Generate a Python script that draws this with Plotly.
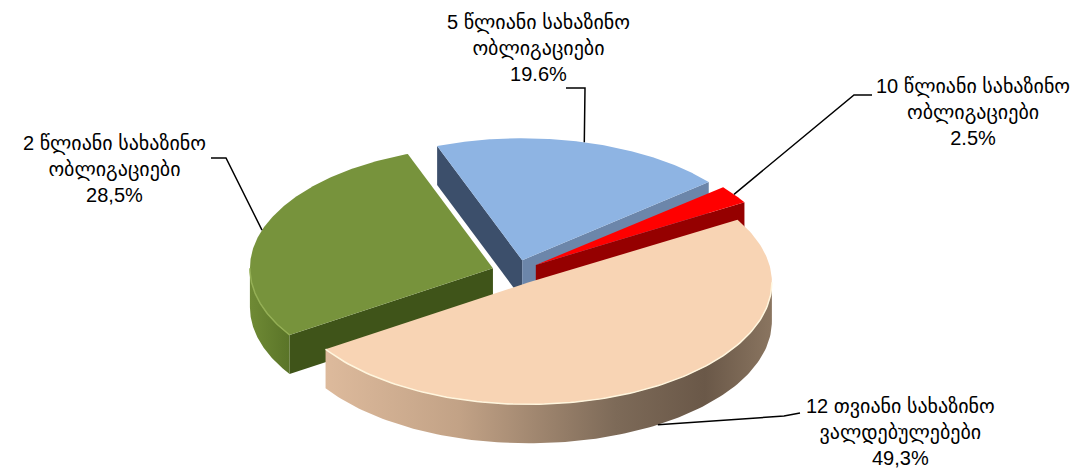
import numpy as np
import plotly.graph_objects as go

# ---- data ----
categories = [
    "5 წლიანი სახაზინო<br>ობლიგაციები",
    "10 წლიანი სახაზინო<br>ობლიგაციები",
    "12 თვიანი სახაზინო<br>ვალდებულებები",
    "2 წლიანი სახაზინო<br>ობლიგაციები",
]
values = [19.6, 2.5, 49.3, 28.5]
value_labels = ["19.6%", "2.5%", "49,3%", "28,5%"]

# ---- style / layout ----
W, H = 1080, 468
CX, CY = 508, 264          # pie centre (pixel space)
A, B = 243, 122            # ellipse semi-axes of the tilted pie
DEPTH = 39                 # thickness
START = -20.5              # angle of first slice (deg, clockwise from back)
EXPLODE = 0.1
FONT = "Arial, 'Liberation Sans', 'DejaVu Sans', sans-serif"
FONT_SIZE = 20

top_col = ["#8EB4E3", "#FF0000", "#F8D4B4", "#77933C"]
start_wall_col = ["#3C4F6B", "#7A0000", "#B89A80", "#3F5419"]
end_wall_col = ["#6C86AA", "#950000", "#B89A80", "#4A6020"]
arc_side = [
    [[0, "#3C4F6B"], [1, "#3C4F6B"]],
    [[0, "#950000"], [1, "#950000"]],
    [[0, "#DDBA9C"], [0.3, "#C2A286"], [0.65, "#7D6A58"], [0.85, "#6A5848"], [1, "#8A7560"]],
    [[0, "#6F8A35"], [1, "#5A7428"]],
]
rim_col = [None, None, "#FFF6DE", "#94AF55"]
label_pos = [(530, 40), (965, 104), (892, 424), (106, 161)]
elbows = [
    [(558, 80), (577, 80)],
    [(864, 87), (846, 87)],
    [(792, 405), (776, 408)],
    [(203, 150), (218, 150)],
]
draw_order = [0, 1, 3, 2]


def pt(cx, cy, th, dz=0.0):
    r = np.radians(th)
    return cx + A * np.sin(r), cy - B * np.cos(r) + dz


total = sum(values)
spans = [v / total * 360 for v in values]
starts = list(START + np.cumsum([0] + spans[:-1]))
ends = [s + sp for s, sp in zip(starts, spans)]

fig = go.Figure()
apexes = []
for i in range(len(values)):
    m = (starts[i] + ends[i]) / 2
    ex, ey = pt(0, 0, m)
    apexes.append((CX + EXPLODE * ex, CY + EXPLODE * ey))


def add_poly(xs, ys, color=None, grad=None):
    kw = dict(x=list(xs) + [xs[0]], y=list(ys) + [ys[0]], mode="lines", fill="toself",
              line=dict(width=0, color="rgba(0,0,0,0)"), hoverinfo="skip", showlegend=False)
    if grad is not None:
        kw["fillgradient"] = dict(type="horizontal", colorscale=grad)
    else:
        kw["fillcolor"] = color
    fig.add_trace(go.Scatter(**kw))


for i in draw_order:
    ax, ay = apexes[i]
    s, e = starts[i], ends[i]
    # visible radial walls
    for th, col, vis in [(s, start_wall_col[i], np.sin(np.radians(s)) < 0),
                         (e, end_wall_col[i], np.sin(np.radians(e)) > 0)]:
        if vis:
            px, py = pt(ax, ay, th)
            add_poly([ax, px, px, ax], [ay, py, py + DEPTH, ay + DEPTH], color=col)
    # visible outer side
    t1, t2 = max(s, 90), min(e, 270)
    if t2 > t1:
        th = np.linspace(t1, t2, 120)
        tx, ty = pt(ax, ay, th)
        bx, by = pt(ax, ay, th[::-1], DEPTH)
        add_poly(np.concatenate([tx, bx]), np.concatenate([ty, by]), grad=arc_side[i])
    # top face
    th = np.linspace(s, e, 200)
    tx, ty = pt(ax, ay, th)
    add_poly(np.concatenate([[ax], tx]), np.concatenate([[ay], ty]), color=top_col[i])
    if t2 > t1 and rim_col[i]:
        th = np.linspace(t1, t2, 120)
        rx, ry = pt(ax, ay, th)
        fig.add_trace(go.Scatter(x=rx, y=ry, mode="lines", line=dict(width=1.5, color=rim_col[i]),
                                 hoverinfo="skip", showlegend=False))

shapes = []
annotations = []
for i in range(len(values)):
    ax, ay = apexes[i]
    m = (starts[i] + ends[i]) / 2
    dz = DEPTH if np.cos(np.radians(m)) < 0 else 0
    px, py = pt(ax, ay, m, dz)
    (e1x, e1y), (e2x, e2y) = elbows[i]
    shapes.append(dict(type="path", xref="x", yref="y",
                       path=f"M {e1x},{e1y} L {e2x},{e2y} L {px:.1f},{py:.1f}",
                       line=dict(color="black", width=1.5)))
    lx, ly = label_pos[i]
    annotations.append(dict(x=lx, y=ly, xref="x", yref="y", showarrow=False,
                            text=f"{categories[i]}<br>{value_labels[i]}",
                            align="center", xanchor="center", yanchor="middle",
                            font=dict(family=FONT, size=FONT_SIZE, color="black")))

fig.update_layout(
    width=W, height=H,
    margin=dict(l=0, r=0, t=0, b=0, pad=0),
    paper_bgcolor="white", plot_bgcolor="white",
    xaxis=dict(range=[0, W], visible=False, fixedrange=True),
    yaxis=dict(range=[H, 0], visible=False, fixedrange=True),
    shapes=shapes, annotations=annotations,
    showlegend=False,
)
fig.write_html("out.html")
